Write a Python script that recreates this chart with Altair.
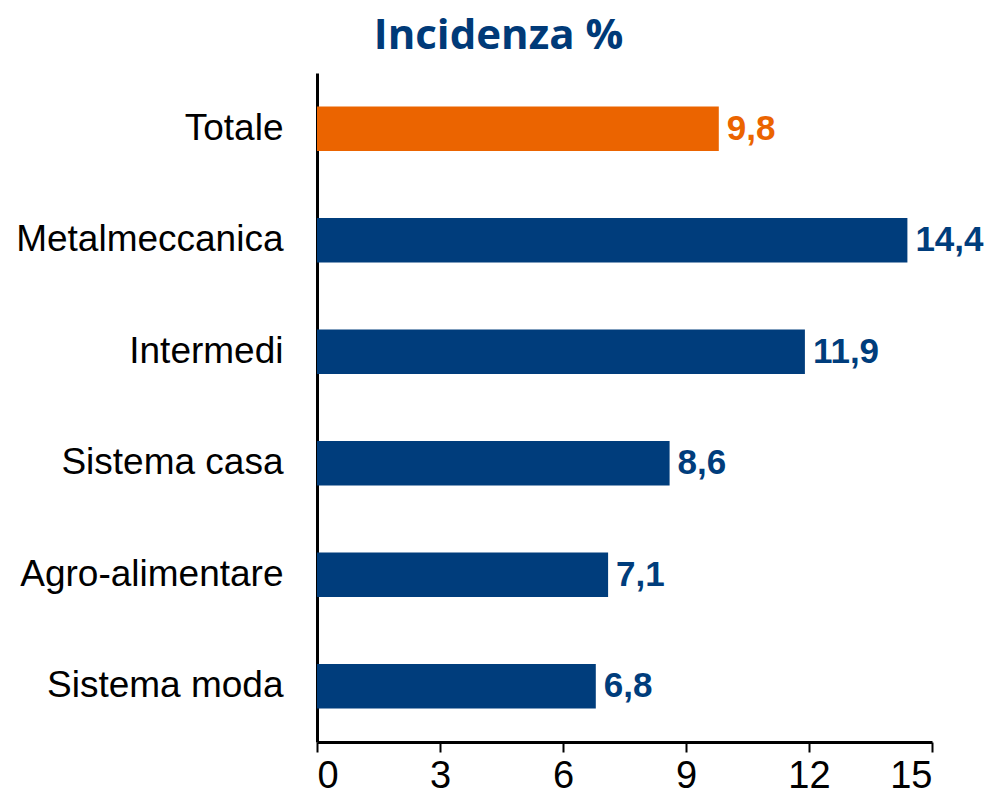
import altair as alt
import pandas as pd

categories = ["Totale", "Metalmeccanica", "Intermedi", "Sistema casa", "Agro-alimentare", "Sistema moda"]
values = [9.8, 14.4, 11.9, 8.6, 7.1, 6.8]
labels = ["9,8", "14,4", "11,9", "8,6", "7,1", "6,8"]
groups = ["tot", "sec", "sec", "sec", "sec", "sec"]
x_ticks = [0, 3, 6, 9, 12, 15]

BLUE = "#003D7C"
ORANGE = "#EB6400"

df = pd.DataFrame({"cat": categories, "val": values, "lab": labels, "grp": groups})

y_enc = alt.Y("cat:N", sort=categories, title=None,
              scale=alt.Scale(paddingInner=0.6, paddingOuter=0.3),
              axis=alt.Axis(ticks=False, labelPadding=34, labelFont="Liberation Sans",
                            labelFontSize=37, labelColor="#000000", domainColor="#000000",
                            domainWidth=3, labelLimit=400))
x_enc = alt.X("val:Q", title=None,
              scale=alt.Scale(domain=[0, 15], nice=False),
              axis=alt.Axis(values=x_ticks, grid=False, tickSize=10, tickWidth=2,
                            tickColor="#000000", domainColor="#000000", domainWidth=3,
                            labelFont="Liberation Sans", labelFontSize=38,
                            labelColor="#000000", labelPadding=5))
color_enc = alt.Color("grp:N", scale=alt.Scale(domain=["tot", "sec"], range=[ORANGE, BLUE]), legend=None)

bars = alt.Chart(df).mark_bar().encode(y=y_enc, x=x_enc, color=color_enc)
text = alt.Chart(df).mark_text(align="left", baseline="middle", dx=8, font="Liberation Sans",
                               fontSize=35, fontWeight="bold").encode(
    y=alt.Y("cat:N", sort=categories), x="val:Q", text="lab:N", color=color_enc)

chart = (bars + text).properties(
    width=615, height=669,
    autosize=alt.AutoSizeParams(type="none"),
    padding={"left": 309, "top": 65, "right": 59, "bottom": 52},
    title=alt.TitleParams("Incidenza %", font="Open Sans", fontSize=42, fontWeight="bold",
                          color="#003A78", anchor="middle", dx=-126, offset=15),
).configure_view(stroke=None)

chart.save("out.html", embed_options={"renderer": "svg", "actions": False})
